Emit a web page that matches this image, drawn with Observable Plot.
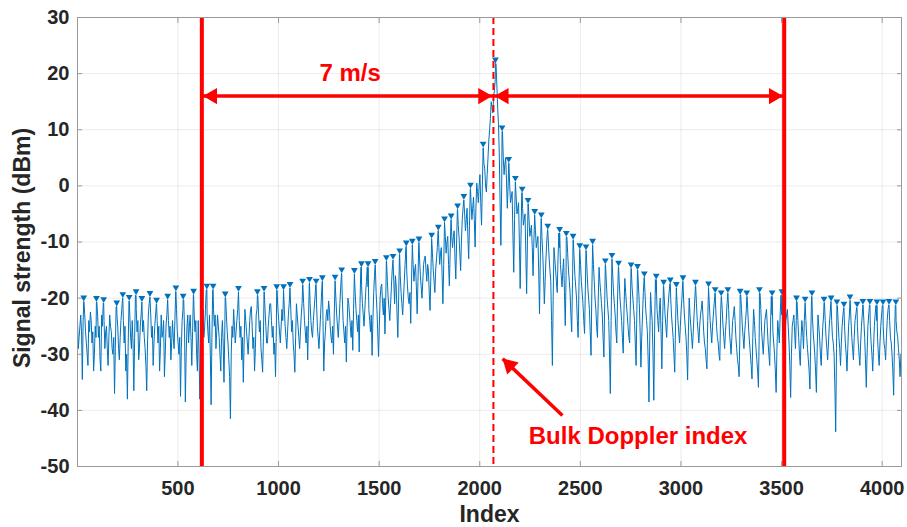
<!DOCTYPE html>
<html><head><meta charset="utf-8">
<script src="https://cdn.jsdelivr.net/npm/d3@7"></script>
<script src="https://cdn.jsdelivr.net/npm/@observablehq/plot@0.6"></script>
<style>body{margin:0;background:#fff}#chart{width:907px;height:527px}</style>
</head><body><div id="chart"></div>
<script>
const xTicks = [500, 1000, 1500, 2000, 2500, 3000, 3500, 4000];
const yTicks = [-50, -40, -30, -20, -10, 0, 10, 20, 30];

// spectrum samples (dBm): lineDb at bins 1, 9, 17, ...; lineDbMid at bins 5, 13, 21, ...
const lineStep = 8, lineStart = 1, midStart = 5;
const lineDb = [
-24,-27,-23,-34.5,-20.6,-26,-30,-24,-22.5,-28,-33,-25,-20.7,-27,-31,-23,
-20.9,-29,-25,-32,-23,-26,-30,-37,-21.5,-25,-31,-24,-20.0,-28,-33,-38,
-20.5,-27,-24,-36.5,-19.5,-26,-31,-25,-20.7,-24,-29,-36.5,-23,-19.8,-27,-32,
-25,-21.0,-28,-33,-23,-26,-34,-25,-20.3,-27,-31,-24,-29,-18.8,-26,-30,
-37.5,-24,-20.3,-38.5,-25,-28,-23,-32,-19.4,-26,-30,-24,-38,-27,-22,-25,
-18.5,-26,-23,-39,-18.5,-25,-29,-23,-27,-33,-24,-35,-19.9,-26,-31,-41.5,
-25,-22,-28,-24,-18.9,-27,-31,-35,-22,-26,-30,-24,-21.5,-29,-33,-23,
-19.5,-26,-29,-33.2,-18.9,-25,-28,-23,-21,-27,-30,-34,-18.6,-24,-28,-22,
-18.6,-25,-29,-23,-18.2,-26,-28,-33.2,-21,-25,-29,-23,-17.6,-24,-28,-31,
-17.3,-24,-27,-22,-17.6,-25,-29,-23,-17.0,-33,-26,-22,-20.5,-25,-28,-30,
-16.9,-23,-27,-21,-15.6,-24,-28,-31.4,-20,-23,-27,-29.3,-15.7,-22,-26,-29.6,
-14.5,-21,-25,-19,-14.5,-22,-26,-30.2,-19,-14.1,-22,-30.4,-20,-17.5,-23,-26.4,
-13.4,-20,-24,-18,-13.2,-21,-18,-27,-12.2,-19,-23,-17,-10.8,-18,-21,-24.5,
-10.5,-17,-14,-22.8,-10.1,-16,-20,-14,-12.5,-17,-15,-22.2,-9.4,-15,-19,-13,
-8.0,-14,-11,-21,-6.5,-12,-9,-17.8,-6.0,-11,-8,-16.6,-4.2,-9,-15.1,-6,
-2.5,-8,-4,-13,-0.5,-6,-2,-10.9,0.5,-3,2,-7,6.8,3,-1.1,5,
10,15,13,17,21.8,14,6,-10.6,9.7,2,5,-4,4.1,-3,-1,-15.4,
0.7,-5,-3,-18.3,-1.2,-7,-5,-19.2,-3.2,-9,-7,-16,-5.2,-11,-9,-22.8,
-5.8,-12,-21,-13,-7.8,-13,-17,-32,-11,-15,-19,-8.4,-14,-18,-13,-24.9,
-9.1,-15,-19,-26,-9.6,-16,-20,-27,-11.3,-17,-21,-26.3,-11.5,-18,-22,-30.2,
-10.5,-17,-22,-27,-14.5,-19,-23,-30.5,-14.0,-20,-24,-37,-13.0,-19,-23,-28,
-14.4,-20,-24,-29.8,-16.5,-21,-25,-28,-14.7,-20,-24,-32,-15.0,-21,-32.3,-23,
-16.3,-22,-26,-38.5,-19,-24,-38.2,-16.7,-22,-26,-20,-32.6,-17.8,-23,-27,-21,
-17.4,-23,-27,-33.2,-18.2,-24,-28,-22,-17.0,-23,-27,-34.6,-20,-25,-29,-23,
-17.8,-24,-28,-23,-20.5,-26,-29,-32.6,-18.1,-24,-28,-23,-19.1,-25,-28,-31.1,
-19.7,-25,-29,-24,-19.1,-26,-30,-24,-21.5,-27,-31,-34,-19.4,-25,-29,-24,
-19.7,-26,-30,-34.4,-22,-27,-31,-35.9,-19.1,-26,-30,-24,-22,-28,-32,-19.7,
-26,-30,-36.8,-24,-28,-19.5,-26,-31,-24,-22,-28,-37.7,-25,-23,-29,-20.6,
-27,-32,-24,-29,-20.8,-27,-31,-36.2,-19.7,-26,-30,-36.8,-23,-27,-32,-25,
-20.8,-27,-31,-25,-20.6,-27,-30,-43.8,-21.3,-27,-32,-25,-21.7,-28,-33,-25,
-20.4,-27,-31,-24,-21.7,-28,-32,-25,-21.2,-27,-35.9,-25,-21.2,-28,-33,-25,
-21.3,-27,-32,-25,-21.3,-28,-31,-24,-21.2,-27,-30,-37.3,-21.3,-26,-29,-34
];
const lineDbMid = [
-29,-25,-26,-24,-23,-28,-32,-26,-24,-26,-30,-27,-23,-25,-33,-25,
-24,-26,-29,-27,-25,-29,-27,-29,-23,-29,-27,-22,-24,-25,-30,-28,
-23,-29,-28,-27,-22,-24,-29,-23,-26,-27,-32,-28,-21,-23,-25,-28,
-23,-24,-25,-29,-27,-24,-30,-23,-24,-25,-28,-27,-24,-22,-28,-27,
-29,-22,-26,-30,-23,-25,-27,-26,-23,-24,-33,-30,-31,-24,-27,-22,
-23,-28,-30,-27,-22,-23,-26,-25,-30,-27,-28,-26,-23,-28,-34,-30,
-27,-25,-26,-22,-24,-25,-27,-28,-24,-28,-27,-22,-25,-27,-29,-22,
-23,-24,-31,-27,-22,-28,-25,-21,-24,-25,-28,-26,-22,-26,-25,-24,
-22,-27,-26,-21,-22,-24,-30,-27,-23,-27,-26,-21,-21,-26,-25,-24,
-21,-26,-24,-20,-21,-27,-26,-20,-24,-28,-23,-24,-22,-27,-25,-23,
-20,-25,-24,-18,-20,-26,-25,-25,-21,-25,-24,-22,-19,-24,-23,-21,
-18,-23,-22,-17,-18,-24,-23,-24,-16,-19,-26,-25,-18,-21,-20,-20,
-17,-22,-21,-15,-17,-16,-23,-20,-16,-21,-20,-14,-15,-20,-19,-17,
-14,-15,-18,-17,-13,-18,-17,-13,-15,-14,-19,-16,-12,-17,-15,-11,
-11,-12,-16,-14,-9,-10,-14,-12,-9,-9,-13,-10,-7,-12,-10,-4,
-5,-6,-9,-7,-3,-4,-6,-4,-1,0,-3,0,4,0,2,8,
12,14,16,19,18,11,-3,0,5,4,1,0,0,-2,-9,-6,
-2,-4,-10,-9,-4,-6,-12,-10,-6,-8,-11,-10,-8,-10,-15,-13,
-9,-16,-17,-10,-10,-15,-24,-20,-13,-17,-13,-11,-16,-15,-19,-16,
-12,-17,-23,-17,-13,-18,-24,-18,-14,-19,-24,-18,-15,-20,-26,-19,
-14,-20,-25,-20,-17,-21,-27,-21,-17,-22,-30,-24,-16,-21,-26,-20,
-17,-22,-27,-22,-19,-23,-27,-20,-18,-22,-28,-22,-18,-26,-27,-19,
-19,-24,-31,-27,-22,-30,-26,-19,-24,-22,-26,-24,-20,-25,-23,-19,
-20,-25,-30,-25,-21,-26,-25,-20,-20,-25,-30,-26,-23,-27,-26,-20,
-21,-26,-25,-22,-23,-28,-31,-24,-21,-26,-25,-21,-22,-27,-30,-23,
-22,-27,-26,-21,-22,-28,-27,-23,-24,-29,-32,-26,-22,-27,-26,-22,
-23,-28,-32,-27,-24,-29,-33,-26,-22,-28,-27,-23,-25,-30,-25,-23,
-28,-33,-29,-26,-23,-23,-29,-27,-23,-25,-32,-30,-24,-26,-24,-24,
-30,-27,-26,-24,-24,-29,-33,-27,-23,-28,-33,-29,-25,-30,-28,-23,
-24,-29,-28,-23,-24,-28,-36,-29,-24,-29,-28,-23,-25,-30,-29,-23,
-24,-29,-27,-23,-25,-30,-28,-23,-24,-31,-30,-23,-25,-30,-29,-23,
-24,-30,-28,-23,-25,-29,-27,-22,-24,-28,-33,-28,-24,-27,-31,-30
];

// detected peaks (bin, dBm)
const peakIdx = [32,95,131,196,226,258,292,321,361,394,449,490,526,578,644,675,735,801,895,928,
991,1025,1057,1120,1154,1187,1218,1281,1314,1377,1412,1445,1480,1536,1569,1602,1635,1665,1698,1761,
1794,1825,1858,1890,1921,1954,2017,2078,2111,2144,2177,2211,2240,2273,2306,2338,2397,2430,2464,2497,
2528,2561,2624,2657,2690,2752,2784,2818,2877,2914,2947,2977,3010,3072,3137,3170,3200,3233,3294,3327,
3390,3453,3502,3574,3617,3651,3711,3746,3775,3810,3840,3875,3904,3939,3974,4004,4034,4068];
const peakDb = [-20.6,-20.7,-20.9,-21.5,-20.0,-20.5,-19.5,-20.7,-19.8,-21.0,-20.3,-18.8,-20.3,-19.4,-18.5,-18.5,-19.9,-18.9,-19.5,-18.9,
-18.6,-18.6,-18.2,-17.6,-17.3,-17.6,-17.0,-16.9,-15.6,-15.7,-14.5,-14.5,-14.1,-13.4,-13.2,-12.2,-10.8,-10.5,-10.1,-9.4,
-8.0,-6.5,-6.0,-4.2,-2.5,-0.5,6.8,21.8,9.7,4.1,0.7,-1.2,-3.2,-5.2,-5.8,-7.8,-8.4,-9.1,-9.6,-11.3,
-11.5,-10.5,-14.0,-13.0,-14.4,-14.7,-15.0,-16.3,-16.7,-17.8,-17.4,-18.2,-17.0,-17.8,-18.1,-19.1,-19.7,-19.1,-19.4,-19.7,
-19.1,-19.7,-19.5,-20.6,-20.8,-19.7,-20.8,-20.6,-21.3,-21.7,-20.4,-21.7,-21.2,-21.2,-21.3,-21.3,-21.2,-21.3];

// annotations
const edgeIdx = [619, 3513];
const bulkIdx = 2068;
const spanDb = 16;
const speedText = "7 m/s", speedX = 1356, speedY = 20;
const bulkText = "Bulk Doppler index", bulkTextX = 2787, bulkTextY = -44.7;
const pointerFrom = [2411, -40.9], pointerTo = [2114, -30.8];

const RED = "#ff0000", BLUE = "#0072BD", AX = "#9a9a9a", TXT = "#262626";

const peaks = peakIdx.map((x, i) => ({x, y: peakDb[i]}));
const lineData = lineDb.map((y, i) => ({x: lineStart + lineStep * i, y}))
  .concat(lineDbMid.map((y, i) => ({x: midStart + lineStep * i, y})))
  .concat(peaks).sort((a, b) => a.x - b.x);

const spans = [
  {x1: edgeIdx[0], x2: bulkIdx, y: spanDb},
  {x1: bulkIdx, x2: edgeIdx[1], y: spanDb}
];
const headsLeft = [{x: edgeIdx[0], y: spanDb}, {x: bulkIdx, y: spanDb}];   // pointing left
const headsRight = [{x: bulkIdx, y: spanDb}, {x: edgeIdx[1], y: spanDb}];  // pointing right

const chart = Plot.plot({
  width: 907, height: 527,
  marginLeft: 77, marginRight: 6, marginTop: 17, marginBottom: 61,
  x: {domain: [1, 4096]},
  y: {domain: [-50, 30]},
  style: {fontFamily: "'Liberation Sans', Arial, sans-serif", background: "#fff"},
  marks: [
    Plot.gridX(xTicks, {stroke: "#000", strokeOpacity: 0.08}),
    Plot.gridY(yTicks, {stroke: "#000", strokeOpacity: 0.08}),
    Plot.line(lineData, {x: "x", y: "y", stroke: BLUE, strokeWidth: 1}),
    Plot.dot(peaks, {x: "x", y: "y", symbol: "triangle", r: 2.5, rotate: 180, fill: BLUE, stroke: null, dy: -4}),
    Plot.ruleX(edgeIdx, {stroke: RED, strokeWidth: 4}),
    Plot.ruleX([bulkIdx], {stroke: RED, strokeWidth: 2, strokeDasharray: "7,4"}),
    Plot.link(spans, {x1: "x1", x2: "x2", y1: "y", y2: "y", stroke: RED, strokeWidth: 3.5}),
    Plot.dot(headsLeft, {x: "x", y: "y", dx: 10.5, symbol: "triangle", r: 6, rotate: -90, fill: RED, stroke: null}),
    Plot.dot(headsRight, {x: "x", y: "y", dx: -10.5, symbol: "triangle", r: 6, rotate: 90, fill: RED, stroke: null}),
    Plot.text([speedText], {x: speedX, y: speedY, fill: RED, fontSize: 24, fontWeight: "bold"}),
    Plot.text([bulkText], {x: bulkTextX, y: bulkTextY, fill: RED, fontSize: 24, fontWeight: "bold"}),
    Plot.link([{x1: pointerFrom[0], y1: pointerFrom[1], x2: pointerTo[0], y2: pointerTo[1]}],
      {x1: "x1", y1: "y1", x2: "x2", y2: "y2", stroke: RED, strokeWidth: 3.5}),
    Plot.dot([{x: pointerTo[0], y: pointerTo[1]}],
      {x: "x", y: "y", dx: 6.8, dy: 6.4, symbol: "triangle", r: 6.2, rotate: -46.5, fill: RED, stroke: null}),
    Plot.frame({stroke: AX}),
    Plot.axisX(xTicks, {tickSize: 0, tickPadding: 14, tickFormat: d => String(d), fontSize: 20, fontWeight: "bold", fill: TXT, label: null}),
    Plot.axisX(xTicks, {tickSize: -5, tickFormat: () => "", stroke: AX, label: null}),
    Plot.axisX(xTicks, {anchor: "top", tickSize: -5, tickFormat: () => "", stroke: AX, label: null}),
    Plot.axisY(yTicks, {tickSize: 0, tickPadding: 8, tickFormat: d => String(d), fontSize: 20, fontWeight: "bold", fill: TXT, label: null}),
    Plot.axisY(yTicks, {tickSize: -5, tickFormat: () => "", stroke: AX, label: null}),
    Plot.axisY(yTicks, {anchor: "right", tickSize: -5, tickFormat: () => "", stroke: AX, label: null}),
    Plot.text(["Index"], {frameAnchor: "bottom", dy: 39, lineAnchor: "top", textAnchor: "middle", fontSize: 23, fontWeight: "bold", fill: TXT}),
    Plot.text(["Signal strength (dBm)"], {frameAnchor: "left", dx: -64, dy: 6, rotate: -90, lineAnchor: "top", textAnchor: "middle", fontSize: 23, fontWeight: "bold", fill: TXT})
  ]
});
document.getElementById("chart").appendChild(chart);
</script>
</body></html>
